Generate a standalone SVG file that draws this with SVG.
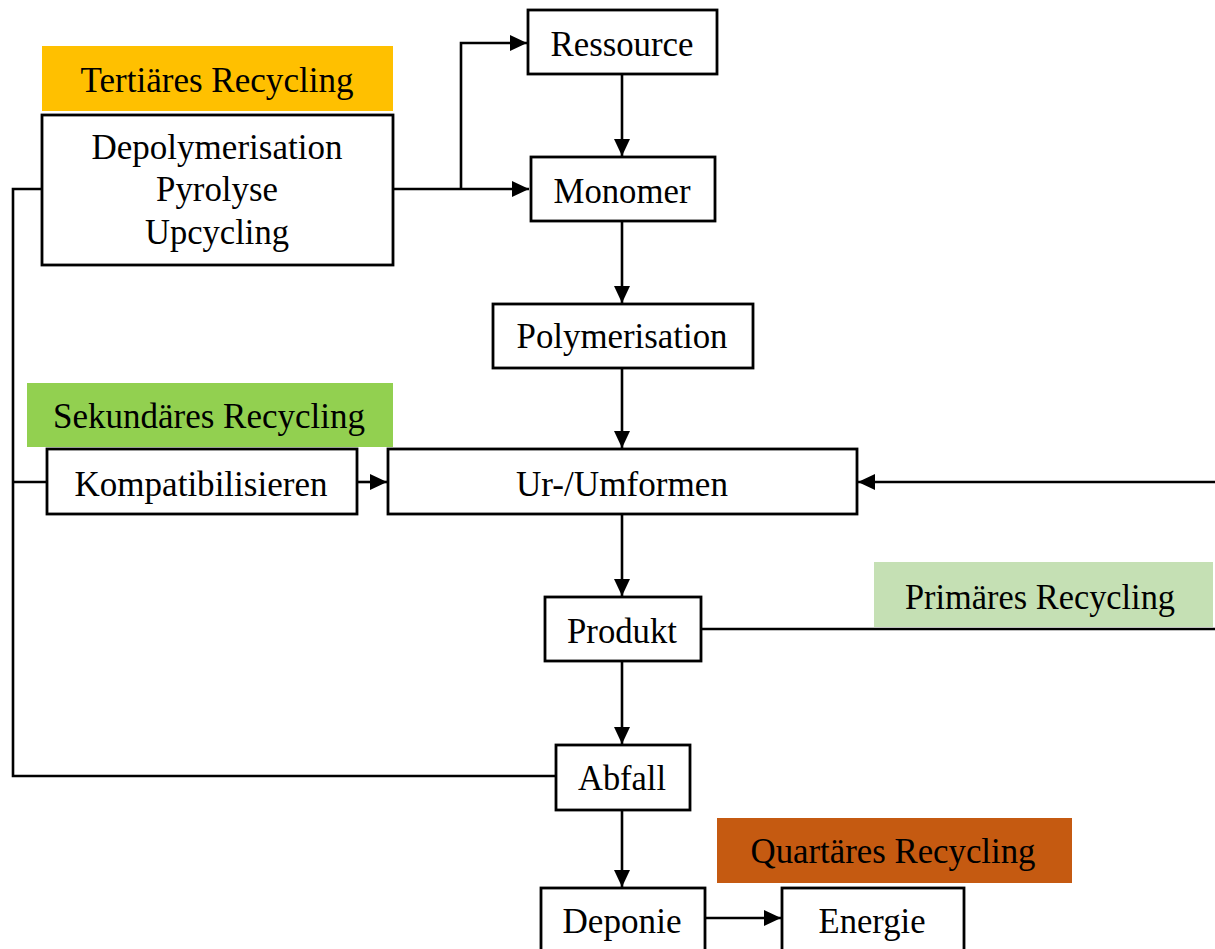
<svg xmlns="http://www.w3.org/2000/svg" width="1215" height="949" viewBox="0 0 1215 949">
<style>
.box{fill:#fff;stroke:#000;stroke-width:2.8}
.lbl{stroke:none}
.t{font-family:"Liberation Serif","Times New Roman",serif;font-size:36px;fill:#000;text-anchor:middle}
.c{fill:none;stroke:#000;stroke-width:2.6}
</style>
<defs>
<marker id="ah" markerUnits="userSpaceOnUse" markerWidth="17" markerHeight="16" refX="17" refY="8" orient="auto">
<path d="M0,0 L17,8 L0,16 z" fill="#000"/>
</marker>
</defs>
<rect width="1215" height="949" fill="#fff"/>
<g id="connectors">
<path class="c" d="M42,189 H13 V776 H555"/>
<path class="c" d="M13,482 H47"/>
<path class="c" d="M393,189 H529" marker-end="url(#ah)"/>
<path class="c" d="M461,189 V43 H527" marker-end="url(#ah)"/>
<path class="c" d="M622,74 V156" marker-end="url(#ah)"/>
<path class="c" d="M622,221 V303" marker-end="url(#ah)"/>
<path class="c" d="M622,368 V448" marker-end="url(#ah)"/>
<path class="c" d="M357,482 H387" marker-end="url(#ah)"/>
<path class="c" d="M1215,482 H858" marker-end="url(#ah)"/>
<path class="c" d="M622,514 V596" marker-end="url(#ah)"/>
<path class="c" d="M701,629 H1215"/>
<path class="c" d="M622,661 V744" marker-end="url(#ah)"/>
<path class="c" d="M622,810 V887" marker-end="url(#ah)"/>
<path class="c" d="M705,918 H781" marker-end="url(#ah)"/>
</g>
<g id="tertiaer-label">
<rect class="lbl" x="42" y="46" width="351" height="65" fill="#FFC000"/>
<text class="t" x="217" y="92" textLength="273" lengthAdjust="spacingAndGlyphs">Tertiäres Recycling</text>
</g>
<g id="depolymerisation">
<rect class="box" x="42" y="115" width="351" height="150"/>
<text class="t" x="217" y="159" textLength="251" lengthAdjust="spacingAndGlyphs">Depolymerisation</text>
<text class="t" x="217" y="201" textLength="122" lengthAdjust="spacingAndGlyphs">Pyrolyse</text>
<text class="t" x="217" y="244" textLength="144" lengthAdjust="spacingAndGlyphs">Upcycling</text>
</g>
<g id="ressource">
<rect class="box" x="528" y="10" width="189" height="64"/>
<text class="t" x="622" y="56" textLength="143" lengthAdjust="spacingAndGlyphs">Ressource</text>
</g>
<g id="monomer">
<rect class="box" x="531" y="157" width="184" height="64"/>
<text class="t" x="622" y="203" textLength="137" lengthAdjust="spacingAndGlyphs">Monomer</text>
</g>
<g id="polymerisation">
<rect class="box" x="493" y="304" width="260" height="64"/>
<text class="t" x="622" y="348" textLength="211" lengthAdjust="spacingAndGlyphs">Polymerisation</text>
</g>
<g id="sekundaer-label">
<rect class="lbl" x="27" y="383" width="366" height="64" fill="#92D050"/>
<text class="t" x="209" y="428" textLength="312" lengthAdjust="spacingAndGlyphs">Sekundäres Recycling</text>
</g>
<g id="kompatibilisieren">
<rect class="box" x="47" y="449" width="310" height="65"/>
<text class="t" x="201" y="496" textLength="253" lengthAdjust="spacingAndGlyphs">Kompatibilisieren</text>
</g>
<g id="umformen">
<rect class="box" x="388" y="449" width="469" height="65"/>
<text class="t" x="622" y="496" textLength="212" lengthAdjust="spacingAndGlyphs">Ur-/Umformen</text>
</g>
<g id="primaer-label">
<rect class="lbl" x="874" y="562" width="339" height="65" fill="#C5E0B4"/>
<text class="t" x="1040" y="609" textLength="270" lengthAdjust="spacingAndGlyphs">Primäres Recycling</text>
</g>
<g id="produkt">
<rect class="box" x="545" y="597" width="156" height="64"/>
<text class="t" x="622" y="643" textLength="110" lengthAdjust="spacingAndGlyphs">Produkt</text>
</g>
<g id="abfall">
<rect class="box" x="556" y="745" width="134" height="65"/>
<text class="t" x="622" y="790" textLength="88" lengthAdjust="spacingAndGlyphs">Abfall</text>
</g>
<g id="quartaer-label">
<rect class="lbl" x="717" y="818" width="355" height="65" fill="#C55A11"/>
<text class="t" x="893" y="863" textLength="285" lengthAdjust="spacingAndGlyphs">Quartäres Recycling</text>
</g>
<g id="deponie">
<rect class="box" x="541" y="888" width="164" height="80"/>
<text class="t" x="622" y="933" textLength="119" lengthAdjust="spacingAndGlyphs">Deponie</text>
</g>
<g id="energie">
<rect class="box" x="782" y="888" width="182" height="80"/>
<text class="t" x="872" y="933" textLength="107" lengthAdjust="spacingAndGlyphs">Energie</text>
</g>
</svg>
